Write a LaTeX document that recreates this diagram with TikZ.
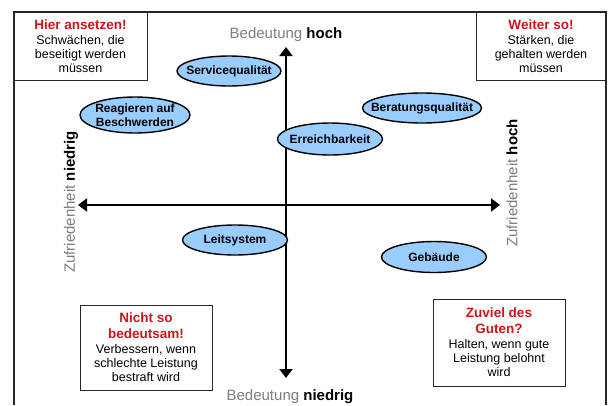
\documentclass[tikz,border=0pt]{standalone}
\usepackage{fontspec}
\setmainfont{Liberation Sans}
\usetikzlibrary{arrows.meta,shapes.geometric}
\definecolor{alarm}{RGB}{205,20,25}
\definecolor{sky}{RGB}{153,204,255}
\definecolor{dim}{RGB}{125,125,125}
\tikzset{
  >={Triangle[length=9pt,width=13pt]},
  frame/.style={draw=black!85,line width=1.3pt},
  verdict/.style={draw=black!85,line width=0.9pt,align=center,inner sep=0pt,
    font=\fontsize{12.5}{14}\selectfont},
  factor/.style={ellipse,draw=black,fill=sky,line width=1.4pt,inner sep=0pt,
    minimum width=105pt,minimum height=31pt,align=center,
    font=\fontsize{12}{13.5}\selectfont\bfseries},
  axis/.style={<->,line width=2.8pt},
  axlabel/.style={font=\fontsize{15}{17}\selectfont,text=dim,inner sep=0pt},
}
% red headline inside the quadrant boxes
\newcommand{\headline}[1]{{\color{alarm}\bfseries\fontsize{13.5}{17}\selectfont #1}}
% keep ellipse text from widening the shape
\newcommand{\tight}[1]{\makebox[0pt]{#1}}

\begin{document}
\begin{tikzpicture}[x=1pt,y=-1pt]
  \useasboundingbox (0,0) rectangle (610,405);
  \draw[frame] (14,405) -- (14,12) -- (606,12) -- (606,405);

  % quadrant boxes
  \node[verdict,minimum width=133pt,minimum height=68pt] (tl) at (80.5,46)
    {\headline{Hier ansetzen!}\\[1pt]Schwächen, die\\beseitigt werden\\müssen};
  \node[verdict,minimum width=130pt,minimum height=68pt] (tr) at (541,46)
    {\headline{Weiter so!}\\[1pt]Stärken, die\\gehalten werden\\müssen};
  \node[verdict,minimum width=132pt,minimum height=85pt] (bl) at (146,347.5)
    {\headline{Nicht so}\\[2pt]\headline{bedeutsam!}\\[1pt]Verbessern, wenn\\schlechte Leistung\\bestraft wird};
  \node[verdict,minimum width=132pt,minimum height=87pt] (br) at (499,342.5)
    {\headline{Zuviel des}\\[2pt]\headline{Guten?}\\[1pt]Halten, wenn gute\\Leistung belohnt\\wird};

  % axes
  \coordinate (up) at (286,47);
  \coordinate (down) at (286,378);
  \coordinate (west) at (78,205);
  \coordinate (east) at (500,205);
  \draw[axis] (down) -- (up);
  \draw[axis] (west) -- (east);
  \node[axlabel] (bhi) at (286,35) {Bedeutung \textcolor{black}{\bfseries hoch}};
  \node[axlabel] (blo) at (290,397) {Bedeutung \textcolor{black}{\bfseries niedrig}};
  \node[axlabel,rotate=90] (zlo) at (71,202) {Zufriedenheit \textcolor{black}{\bfseries niedrig}};
  \node[axlabel,rotate=90] (zhi) at (512,183) {Zufriedenheit \textcolor{black}{\bfseries hoch}};

  % service factors
  \node[factor,minimum width=104pt,minimum height=30pt] (sq) at (229,71) {\tight{Servicequalität}};
  \node[factor,minimum width=110pt,minimum height=36pt] (rb) at (135,115) {\tight{Reagieren auf}\\\tight{Beschwerden}};
  \node[factor,minimum width=119pt,minimum height=30pt] (bq) at (422,108) {\tight{Beratungsqualität}};
  \node[factor,minimum width=105pt,minimum height=32pt] (er) at (330,139) {\tight{Erreichbarkeit}};
  \node[factor,minimum width=105pt,minimum height=30pt] (ls) at (235,240) {\tight{Leitsystem}};
  \node[factor,minimum width=105pt,minimum height=31pt] (gb) at (434,257) {\tight{Gebäude}};
\end{tikzpicture}
\end{document}
